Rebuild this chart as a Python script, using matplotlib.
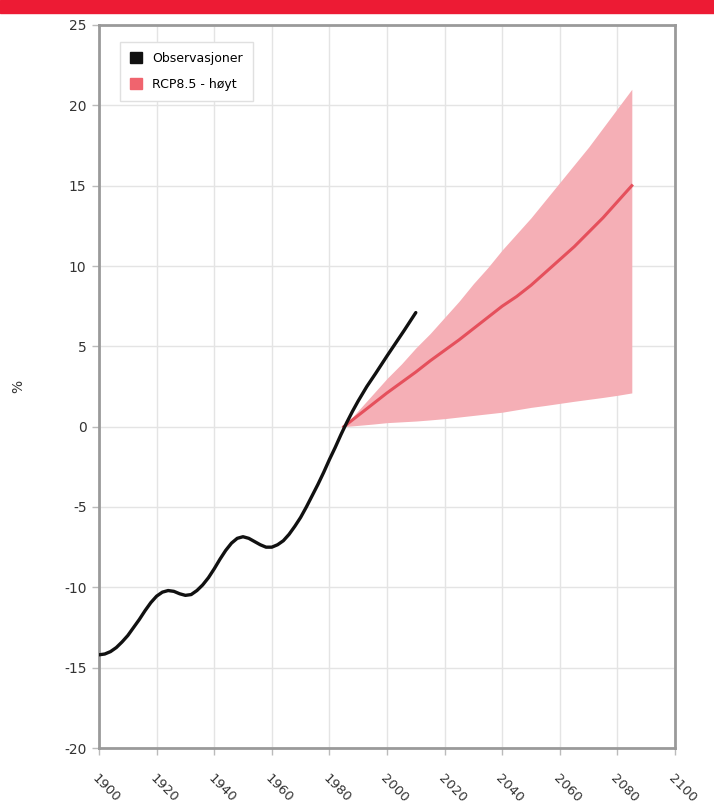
import matplotlib
matplotlib.use("Agg")
import matplotlib.pyplot as plt
from matplotlib.patches import Patch, Rectangle

obs_year = [1900, 1902, 1904, 1906, 1908, 1910, 1912, 1914, 1916, 1918, 1920, 1922,
            1924, 1926, 1928, 1930, 1932, 1934, 1936, 1938, 1940, 1942, 1944, 1946,
            1948, 1950, 1952, 1954, 1956, 1958, 1960, 1962, 1964, 1966, 1968, 1970,
            1972, 1974, 1976, 1978, 1980, 1982, 1984, 1986, 1988, 1990, 1993, 1996,
            2000, 2003, 2006, 2010]
obs_val = [-14.2, -14.15, -14.0, -13.75, -13.4, -13.0, -12.5, -12.0, -11.45, -10.95,
           -10.55, -10.3, -10.2, -10.25, -10.4, -10.5, -10.45, -10.2, -9.85, -9.4,
           -8.85, -8.25, -7.7, -7.25, -6.95, -6.85, -6.95, -7.15, -7.35, -7.5,
           -7.5, -7.35, -7.1, -6.7, -6.2, -5.65, -5.0, -4.3, -3.6, -2.85, -2.05,
           -1.3, -0.5, 0.25, 0.95, 1.6, 2.5, 3.3, 4.4, 5.2, 6.0, 7.1]

# RCP8.5 projection: median and spread
proj_year = [1985, 1990, 1995, 2000, 2005, 2010, 2015, 2020, 2025, 2030, 2035, 2040,
             2045, 2050, 2055, 2060, 2065, 2070, 2075, 2080, 2085]
proj_mid = [0.0, 0.7, 1.4, 2.1, 2.75, 3.4, 4.1, 4.75, 5.4, 6.1, 6.8, 7.5, 8.1,
            8.8, 9.6, 10.4, 11.2, 12.1, 13.0, 14.0, 15.0]
proj_hi = [0.0, 1.0, 2.0, 3.0, 3.9, 4.9, 5.8, 6.8, 7.8, 8.9, 9.9, 11.0, 12.0,
           13.0, 14.1, 15.2, 16.3, 17.4, 18.6, 19.8, 21.0]
proj_lo = [0.0, 0.08, 0.16, 0.25, 0.3, 0.35, 0.42, 0.5, 0.6, 0.7, 0.8, 0.9, 1.05,
           1.2, 1.32, 1.45, 1.58, 1.7, 1.82, 1.95, 2.1]

x_ticks = list(range(1900, 2101, 20))
y_ticks = list(range(-20, 26, 5))

plt.rcParams.update({"font.family": "DejaVu Sans", "font.size": 10})
fig = plt.figure(figsize=(7.14, 8.08), dpi=100)
fig.patches.append(Rectangle((0, 1 - 13 / 808), 1, 13 / 808, transform=fig.transFigure,
                             color="#ED1B34", zorder=0))

ax = fig.add_axes([99 / 714, 1 - 748 / 808, 576 / 714, 723 / 808])
ax.fill_between(proj_year, proj_lo, proj_hi, color="#F5AFB6", lw=0, zorder=2)
ax.plot(proj_year, proj_mid, color="#E5505C", lw=2.2, zorder=3)
ax.plot(obs_year, obs_val, color="#111111", lw=2.4, zorder=4, solid_capstyle="round")

ax.set_xlim(1900, 2100)
ax.set_ylim(-20, 25)
ax.set_xticks(x_ticks)
ax.set_yticks(y_ticks)
ax.set_xticklabels([str(t) for t in x_ticks], rotation=-45, ha="left", va="top",
                   rotation_mode="anchor", color="#333333", fontsize=9.5)
ax.set_yticklabels([str(t) for t in y_ticks], color="#333333")
ax.tick_params(axis="x", length=5, width=1, color="#bbbbbb", pad=12)
ax.tick_params(axis="y", length=5, width=1, color="#bbbbbb", pad=4)
ax.grid(True, color="#e4e4e4", lw=1)
ax.set_axisbelow(True)
for sp in ax.spines.values():
    sp.set_color("#9a9a9a")
    sp.set_linewidth(2)
ax.set_ylabel("%", color="#333333")
ax.yaxis.set_label_coords(-74 / 576, 0.5)

handles = [Patch(facecolor="#111111", edgecolor="#111111", label="Observasjoner"),
           Patch(facecolor="#F0646E", edgecolor="#F0646E", label="RCP8.5 - høyt")]
leg = ax.legend(handles=handles, loc="upper left", bbox_to_anchor=(0.025, 0.985),
                fontsize=9, handlelength=1.0, handleheight=1.0, borderpad=0.8,
                labelspacing=1.0, fancybox=False, framealpha=1)
leg.get_frame().set_edgecolor("#e0e0e0")

fig.savefig("out.png", dpi=100)
